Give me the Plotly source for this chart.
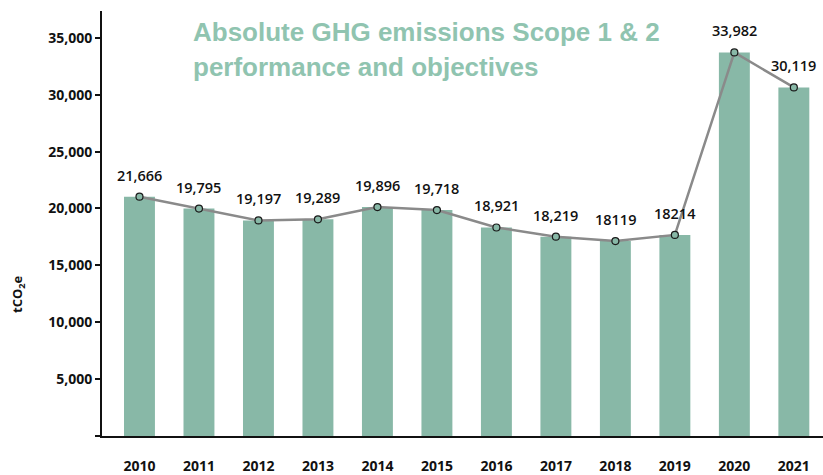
import plotly.graph_objects as go

years = ["2010", "2011", "2012", "2013", "2014", "2015", "2016", "2017", "2018", "2019", "2020", "2021"]
# bar heights as drawn in the picture (tCO2e)
values = [21035, 19990, 18950, 19050, 20120, 19860, 18330, 17520, 17135, 17675, 33720, 30640]
# printed data labels
labels = ["21,666", "19,795", "19,197", "19,289", "19,896", "19,718", "18,921", "18,219", "18119", "18214", "33,982", "30,119"]
y_ticks = [0, 5000, 10000, 15000, 20000, 25000, 30000, 35000]
y_ticktext = ["", "5,000", "10,000", "15,000", "20,000", "25,000", "30,000", "35,000"]
title_lines = ["Absolute GHG emissions Scope 1 & 2", "performance and objectives"]

BAR = "#88b8a7"
TITLE = "#90c4b0"
FONT = "Open Sans"

fig = go.Figure()
fig.add_trace(go.Bar(x=years, y=values, width=0.52, marker=dict(color=BAR, line=dict(width=0)),
                     hoverinfo="skip"))
fig.add_trace(go.Scatter(x=years, y=values, mode="lines+markers",
                         line=dict(color="#8a8a8a", width=2.5),
                         marker=dict(symbol="circle", size=7, color=BAR,
                                     line=dict(color="#1a1a1a", width=1.2)),
                         hoverinfo="skip"))

for i, (v, lab) in enumerate(zip(values, labels)):
    fig.add_annotation(x=i, y=v, text=lab, showarrow=False, yanchor="middle", yshift=21.5,
                       font=dict(family=FONT, size=14.5, color="#111111", weight=600))

for line, py in zip(title_lines, [32, 67]):
    fig.add_annotation(xref="paper", yref="paper", x=(191 - 102) / 721, y=(439 - py) / 428,
                       xanchor="left", yanchor="middle", align="left",
                       text=line, showarrow=False,
                       font=dict(family="Liberation Sans", size=26, color=TITLE, weight="bold"))

fig.add_annotation(xref="paper", yref="paper", x=(18 - 102) / 721, y=(439 - 297) / 428,
                   xanchor="center", yanchor="middle", textangle=-90,
                   text="tCO<sub>2</sub>e", showarrow=False,
                   font=dict(family=FONT, size=13, color="#111111", weight=700))

fig.update_layout(
    width=823, height=475,
    margin=dict(l=102, r=0, t=11, b=36),
    paper_bgcolor="white", plot_bgcolor="white",
    showlegend=False,
    font=dict(family=FONT, color="#111111"),
)
fig.update_xaxes(type="category", range=[-0.63, 11.49], showline=True, linecolor="#111111",
                 linewidth=2, ticks="", showgrid=False, zeroline=False,
                 tickfont=dict(family=FONT, size=14, color="#111111", weight=700),
                 ticklabelstandoff=16)
fig.update_yaxes(range=[0, 37360], tickvals=y_ticks, ticktext=y_ticktext, showline=True,
                 linecolor="#111111", linewidth=2, ticks="outside", ticklen=5, tickwidth=1.5,
                 tickcolor="#111111", showgrid=False, zeroline=False,
                 tickfont=dict(family=FONT, size=14, color="#111111", weight=700))

fig.write_html("out.html", config={"displayModeBar": False},
               post_script="document.body.style.margin='0';document.body.style.overflow='hidden';")
